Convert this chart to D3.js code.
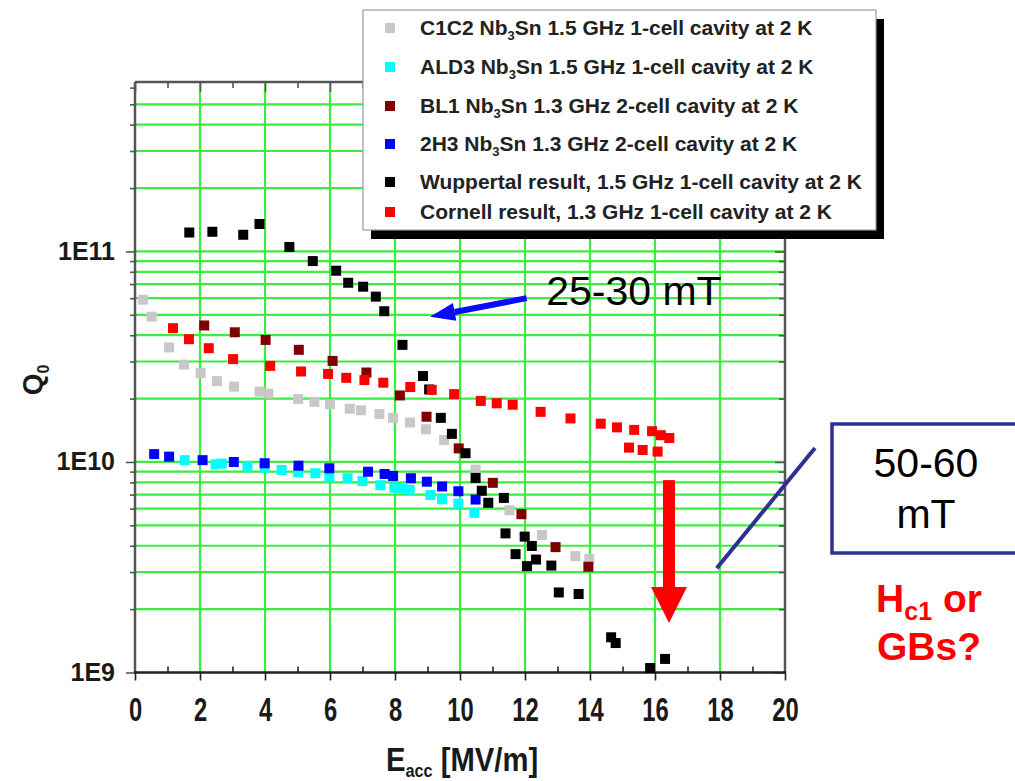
<!DOCTYPE html>
<html>
<head>
<meta charset="utf-8">
<script src="https://cdn.jsdelivr.net/npm/d3@7"></script>
<style>
  body { margin: 0; background: #fff; }
  svg { display: block; font-family: "Liberation Sans", Arial, sans-serif; }
</style>
</head>
<body>
<svg id="chart" width="1015" height="781"></svg>
<script>
// Q0 vs Eacc for Nb3Sn cavities (log Q axis)
const xMajorTicks = [0, 2, 4, 6, 8, 10, 12, 14, 16, 18, 20];
const xMinorTicks = [1, 3, 5, 7, 9, 11, 13, 15, 17, 19];
const yTickValues = [1e9, 1e10, 1e11];
const yTickLabels = ["1E9", "1E10", "1E11"];

const seriesNames = ["C1C2", "ALD3", "BL1", "2H3", "Wuppertal", "Cornell"];
const seriesColors = ["#c8c8c8", "#00ffff", "#800000", "#0000ff", "#000000", "#ff0000"];

// C1C2 Nb3Sn 1.5 GHz 1-cell
const c1c2E = [0.25, 0.51, 1.05, 1.51, 2.02, 2.52, 3.05, 3.83, 4.10, 5.02, 5.52, 6.00, 6.61, 6.95, 7.52, 7.94, 8.46, 8.95, 9.51, 10.48, 11.52, 12.52, 13.55, 13.98];
const c1c2Q = [5.9e10, 4.9e10, 3.5e10, 2.9e10, 2.64e10, 2.42e10, 2.28e10, 2.16e10, 2.11e10, 1.99e10, 1.93e10, 1.88e10, 1.79e10, 1.76e10, 1.69e10, 1.62e10, 1.54e10, 1.43e10, 1.27e10, 9.2e9, 5.9e9, 4.5e9, 3.57e9, 3.46e9];

// ALD3 Nb3Sn 1.5 GHz 1-cell
const ald3E = [1.53, 2.48, 2.67, 3.46, 3.99, 4.51, 5.02, 5.55, 5.98, 6.54, 7.00, 7.55, 7.98, 8.22, 8.45, 9.09, 9.45, 9.95, 10.44];
const ald3Q = [1.02e10, 9.75e9, 9.83e9, 9.51e9, 9.42e9, 9.16e9, 8.94e9, 8.84e9, 8.46e9, 8.37e9, 8.11e9, 7.75e9, 7.55e9, 7.47e9, 7.38e9, 6.97e9, 6.65e9, 6.34e9, 5.73e9];

// BL1 Nb3Sn 1.3 GHz 2-cell
const bl1E = [2.13, 3.07, 4.02, 5.04, 6.08, 7.12, 8.15, 8.97, 9.96, 11.01, 11.89, 12.94, 13.95];
const bl1Q = [4.45e10, 4.13e10, 3.8e10, 3.41e10, 3.02e10, 2.66e10, 2.07e10, 1.64e10, 1.16e10, 7.96e9, 5.65e9, 3.94e9, 3.18e9];

// 2H3 Nb3Sn 1.3 GHz 2-cell
const h23E = [0.59, 1.05, 2.08, 3.04, 3.99, 5.03, 5.98, 7.17, 7.68, 7.94, 8.49, 8.98, 9.45, 9.95, 10.48];
const h23Q = [1.09e10, 1.06e10, 1.02e10, 1.0e10, 9.86e9, 9.6e9, 9.33e9, 8.99e9, 8.77e9, 8.58e9, 8.37e9, 8.06e9, 7.65e9, 7.26e9, 6.63e9];

// Wuppertal 1.5 GHz 1-cell
const wupE = [1.67, 2.38, 3.33, 3.83, 4.75, 5.47, 6.19, 6.56, 7.02, 7.41, 7.67, 8.23, 8.86, 9.05, 9.41, 9.75, 10.17, 10.48, 10.67, 10.87, 11.35, 11.40, 11.71, 11.99, 12.21, 12.34, 12.06, 12.81, 13.04, 13.65, 14.65, 14.79, 15.85, 16.31];
const wupQ = [1.23e11, 1.24e11, 1.2e11, 1.35e11, 1.05e11, 9.0e10, 8.1e10, 7.1e10, 6.8e10, 6.1e10, 5.2e10, 3.6e10, 2.56e10, 2.21e10, 1.62e10, 1.36e10, 1.1e10, 8.4e9, 7.3e9, 6.4e9, 6.75e9, 4.58e9, 3.65e9, 4.42e9, 3.99e9, 3.44e9, 3.2e9, 3.22e9, 2.4e9, 2.36e9, 1.47e9, 1.38e9, 1.05e9, 1.16e9];

// Cornell 1.3 GHz 1-cell
const corE = [1.17, 1.66, 2.27, 3.02, 4.16, 5.11, 5.94, 6.50, 7.06, 7.64, 8.47, 9.13, 9.82, 10.64, 11.13, 11.62, 12.48, 13.40, 14.33, 14.83, 15.36, 15.91, 16.18, 16.44, 15.20, 15.62, 16.08];
const corQ = [4.32e10, 3.83e10, 3.47e10, 3.08e10, 2.86e10, 2.69e10, 2.62e10, 2.51e10, 2.45e10, 2.38e10, 2.27e10, 2.2e10, 2.1e10, 1.95e10, 1.9e10, 1.87e10, 1.73e10, 1.61e10, 1.52e10, 1.46e10, 1.42e10, 1.4e10, 1.34e10, 1.3e10, 1.17e10, 1.14e10, 1.12e10];

const seriesE = [c1c2E, ald3E, bl1E, h23E, wupE, corE];
const seriesQ = [c1c2Q, ald3Q, bl1Q, h23Q, wupQ, corQ];

// legend text: [label, subscript after "Nb", rest]
const legendParts = [
  ["C1C2 Nb", "3", "Sn 1.5 GHz 1-cell cavity at 2 K"],
  ["ALD3 Nb", "3", "Sn 1.5 GHz 1-cell cavity at 2 K"],
  ["BL1 Nb", "3", "Sn 1.3 GHz 2-cell cavity at 2 K"],
  ["2H3 Nb", "3", "Sn 1.3 GHz 2-cell cavity at 2 K"],
  ["Wuppertal result, 1.5 GHz 1-cell cavity at 2 K", "", ""],
  ["Cornell result, 1.3 GHz 1-cell cavity at 2 K", "", ""]
];

(function draw() {
  const svg = d3.select("#chart");
  const pL = 135, pR = 785, pT = 82, pB = 672.5;
  const x = d3.scaleLinear().domain([0, 20]).range([pL, pR]);
  const y = d3.scaleLog().domain([1e9, 6.38e11]).range([pB, pT]);

  const gridColor = "#3ded3d";
  const axisColor = "#555";

  // horizontal grid at every log minor step
  const gridValues = [];
  [1e9, 1e10, 1e11].forEach(dec => {
    for (let k = 1; k <= 9; k++) {
      const v = dec * k;
      if (v > 1e9 && v <= 5e11) gridValues.push(v);
    }
  });
  const grid = svg.append("g");
  grid.selectAll("line.h").data(gridValues).join("line")
    .attr("x1", pL).attr("x2", pR)
    .attr("y1", d => y(d)).attr("y2", d => y(d))
    .attr("stroke", gridColor).attr("stroke-width", 2.2);
  grid.selectAll("line.v").data(xMajorTicks.filter(d => d > 0 && d < 20)).join("line")
    .attr("x1", d => x(d)).attr("x2", d => x(d))
    .attr("y1", pT).attr("y2", pB)
    .attr("stroke", gridColor).attr("stroke-width", 2.2);

  function styleAxis(g, color) {
    g.select(".domain").remove();
    g.selectAll(".tick line").attr("stroke", color).attr("stroke-width", 1.6);
  }
  const yMinor = gridValues.concat([6e11]).filter(v => yTickValues.indexOf(v) < 0);

  // bottom axis
  svg.append("g").attr("transform", `translate(0,${pB})`)
    .call(d3.axisBottom(x).tickValues(xMajorTicks).tickSize(8).tickFormat(d3.format("d")))
    .call(g => {
      styleAxis(g, "#222");
      g.selectAll(".tick text").attr("font-size", 34).attr("font-weight", "bold")
        .attr("fill", "#1a1a1a").attr("y", 24).attr("dy", "0.71em")
        .attr("transform", "scale(0.7,1)");
    });
  svg.append("g").attr("transform", `translate(0,${pB})`)
    .call(d3.axisBottom(x).tickValues(xMinorTicks).tickSize(-6).tickFormat(""))
    .call(g => styleAxis(g, "#222"));
  // top axis
  svg.append("g").attr("transform", `translate(0,${pT})`)
    .call(d3.axisTop(x).tickValues(xMajorTicks).tickSize(-10).tickFormat(""))
    .call(g => styleAxis(g, axisColor));
  svg.append("g").attr("transform", `translate(0,${pT})`)
    .call(d3.axisTop(x).tickValues(xMinorTicks).tickSize(-6).tickFormat(""))
    .call(g => styleAxis(g, axisColor));
  // left axis
  svg.append("g").attr("transform", `translate(${pL},0)`)
    .call(d3.axisLeft(y).tickValues(yTickValues).tickSize(9)
      .tickFormat((d, i) => yTickLabels[i]))
    .call(g => {
      styleAxis(g, axisColor);
      g.selectAll(".tick text").attr("font-size", 25).attr("font-weight", "bold")
        .attr("fill", "#1a1a1a").attr("x", -20);
    });
  svg.append("g").attr("transform", `translate(${pL},0)`)
    .call(d3.axisLeft(y).tickValues(yMinor).tickSize(5).tickFormat(""))
    .call(g => styleAxis(g, axisColor));
  // right axis
  svg.append("g").attr("transform", `translate(${pR},0)`)
    .call(d3.axisRight(y).tickValues(yTickValues).tickSize(-10).tickFormat(""))
    .call(g => styleAxis(g, axisColor));
  svg.append("g").attr("transform", `translate(${pR},0)`)
    .call(d3.axisRight(y).tickValues(yMinor).tickSize(-6).tickFormat(""))
    .call(g => styleAxis(g, axisColor));

  // frame
  const frame = svg.append("g").attr("stroke-width", 2.5);
  frame.append("line").attr("x1", pL).attr("x2", pL).attr("y1", pT).attr("y2", pB).attr("stroke", axisColor);
  frame.append("line").attr("x1", pR).attr("x2", pR).attr("y1", pT).attr("y2", pB).attr("stroke", axisColor);
  frame.append("line").attr("x1", pL).attr("x2", pR).attr("y1", pT).attr("y2", pT).attr("stroke", axisColor);
  frame.append("line").attr("x1", pL - 1).attr("x2", pR + 1).attr("y1", pB).attr("y2", pB).attr("stroke", "#222");

  // data markers
  const ms = 10;
  seriesNames.forEach((name, i) => {
    const pts = seriesE[i].map((e, j) => ({ e: e, q: seriesQ[i][j] }));
    svg.append("g").attr("class", "series-" + name)
      .selectAll("rect").data(pts).join("rect")
      .attr("x", d => x(d.e) - ms / 2).attr("y", d => y(d.q) - ms / 2)
      .attr("width", ms).attr("height", ms)
      .attr("fill", seriesColors[i]);
  });

  // axis titles
  const xt = svg.append("text").attr("transform", `translate(${(pL + pR) / 2 + 2},771) scale(0.86,1)`)
    .attr("text-anchor", "middle").attr("font-size", 34).attr("font-weight", "bold").attr("fill", "#1a1a1a");
  xt.append("tspan").text("E");
  xt.append("tspan").attr("font-size", 19).attr("dy", 6).text("acc");
  xt.append("tspan").attr("dy", -6).text(" [MV/m]");

  const yt = svg.append("text").attr("transform", "translate(42,380) rotate(-90)")
    .attr("text-anchor", "middle").attr("font-size", 28).attr("font-weight", "bold").attr("fill", "#1a1a1a");
  yt.append("tspan").text("Q");
  yt.append("tspan").attr("font-size", 16).attr("dy", 7).text("0");

  // legend
  const lgX = 363, lgY = 10, lgW = 513, lgH = 220;
  const legendRowY = [28, 67, 106, 144, 182, 212];
  const lg = svg.append("g");
  lg.append("rect").attr("x", lgX + 8).attr("y", lgY + 9).attr("width", lgW).attr("height", lgH).attr("fill", "#000");
  lg.append("rect").attr("x", lgX).attr("y", lgY).attr("width", lgW).attr("height", lgH)
    .attr("fill", "#fff").attr("stroke", "#9a9a9a").attr("stroke-width", 1.2);
  const lgTexts = [];
  legendParts.forEach((p, i) => {
    lg.append("rect").attr("x", 385).attr("y", legendRowY[i] - 5).attr("width", 10).attr("height", 10)
      .attr("fill", seriesColors[i]);
    const t = lg.append("text").attr("font-size", 21).attr("font-weight", "bold").attr("fill", "#222")
      .attr("transform", `translate(420,${legendRowY[i] + 7})`);
    t.append("tspan").text(p[0]);
    if (p[1]) {
      t.append("tspan").attr("font-size", 13).attr("dy", 5).text(p[1]);
      t.append("tspan").attr("dy", -5).text(p[2]);
    }
    lgTexts.push(t);
  });
  // condense legend text so the longest entry fits the box
  const longest = lgTexts[4].node().getComputedTextLength();
  const lgScale = Math.min(1, 452 / longest);
  lgTexts.forEach((t, i) => t.attr("transform", `translate(420,${legendRowY[i] + 7}) scale(${lgScale},1)`));

  // annotation: 25-30 mT arrow
  const ann = svg.append("g");
  const ax0 = x(12.05), ay0 = y(6.0e10), ax1 = x(9.08), ay1 = y(4.9e10);
  const ang = Math.atan2(ay1 - ay0, ax1 - ax0);
  const headLen = 25, headW = 9;
  const bx = ax1 - headLen * Math.cos(ang), by = ay1 - headLen * Math.sin(ang);
  ann.append("line").attr("x1", ax0).attr("y1", ay0).attr("x2", bx).attr("y2", by)
    .attr("stroke", "#0a0aff").attr("stroke-width", 6);
  ann.append("path").attr("fill", "#0a0aff")
    .attr("d", `M${ax1},${ay1} L${bx - headW * Math.sin(ang)},${by + headW * Math.cos(ang)} L${bx + headW * Math.sin(ang)},${by - headW * Math.cos(ang)} Z`);
  ann.append("text").attr("x", x(12.65)).attr("y", y(5.57e10)).attr("font-size", 41).attr("fill", "#000").text("25-30 mT");

  // annotation: red drop arrow
  const rx = x(16.43), ryTop = y(8.2e9), ryTip = y(1.72e9);
  ann.append("rect").attr("x", rx - 6).attr("y", ryTop).attr("width", 12).attr("height", (ryTip - ryTop) - 34).attr("fill", "#ff0000");
  ann.append("path").attr("fill", "#ff0000")
    .attr("d", `M${rx},${ryTip} L${rx - 18},${ryTip - 36} L${rx + 18},${ryTip - 36} Z`);

  // callout box 50-60 mT
  ann.append("line").attr("x1", x(17.9)).attr("y1", y(3.13e9)).attr("x2", 815).attr("y2", 448)
    .attr("stroke", "#2e3192").attr("stroke-width", 4);
  ann.append("rect").attr("x", 832).attr("y", 424).attr("width", 220).attr("height", 129)
    .attr("fill", "#fff").attr("stroke", "#2e3192").attr("stroke-width", 3.5);
  ann.append("text").attr("x", 926).attr("y", 477).attr("text-anchor", "middle").attr("font-size", 41).attr("fill", "#000").text("50-60");
  ann.append("text").attr("x", 926).attr("y", 528).attr("text-anchor", "middle").attr("font-size", 41).attr("fill", "#000").text("mT");
  const hc = ann.append("text").attr("x", 929).attr("y", 612).attr("text-anchor", "middle")
    .attr("font-size", 39).attr("font-weight", "bold").attr("fill", "#ff0000");
  hc.append("tspan").text("H");
  hc.append("tspan").attr("font-size", 25).attr("dy", 8).text("c1");
  hc.append("tspan").attr("dy", -8).text(" or");
  ann.append("text").attr("x", 929).attr("y", 660).attr("text-anchor", "middle")
    .attr("font-size", 39).attr("font-weight", "bold").attr("fill", "#ff0000").text("GBs?");
})();
</script>
</body>
</html>
